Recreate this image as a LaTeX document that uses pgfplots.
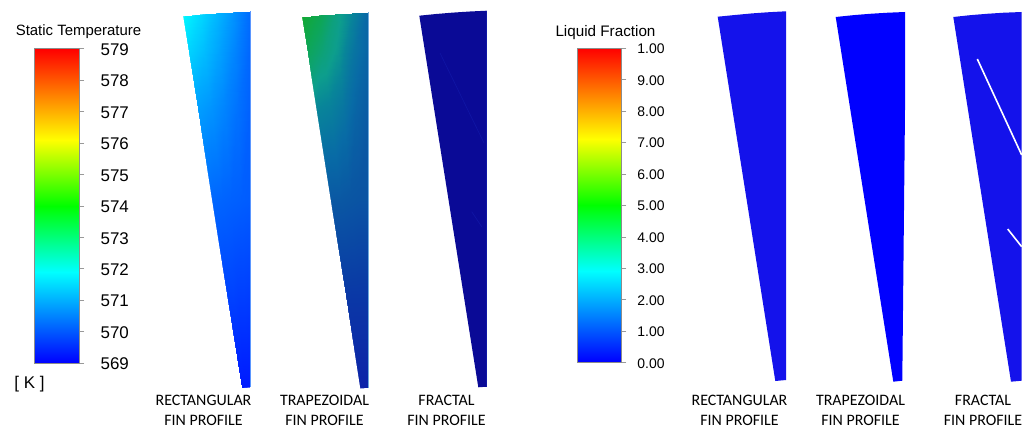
\documentclass[border=0pt]{standalone}
\usepackage{fontspec}
\setmainfont{Liberation Sans}
\newfontfamily\capfont{Carlito}
\usepackage{pgfplots}
\pgfplotsset{compat=1.18}
\pgfplotsset{
  colormap={fluent}{rgb255(0)=(0,0,255) rgb255(29)=(0,255,255) rgb255(50)=(0,255,0) rgb255(71)=(255,255,0) rgb255(100)=(255,0,0)},
  colormap={rectfin}{rgb(0)=(0,0,1) rgb(100)=(0,1,1)},
  colormap={trapfin}{rgb(0)=(.05,.14,.66) rgb(20)=(.04,.22,.65) rgb(40)=(.04,.34,.64) rgb(50)=(.03,.42,.65) rgb(62)=(.03,.52,.6) rgb(70)=(.05,.62,.55) rgb(85)=(.05,.65,.35) rgb(100)=(.07,.66,.2)},
  barstyle/.style={
    scale only axis, width=44.6bp, height=314.3bp, axis on top,
    xmin=0, xmax=1, xtick=\empty, enlargelimits=false,
    axis line style={color=black!45, line width=0.5bp},
    ytick pos=right, yticklabel pos=right, tick align=outside,
    major tick length=5bp,
    tick style={color=black!40, line width=0.5bp},
    colormap name=fluent,
  },
}
\definecolor{fracL}{RGB}{10,10,150}
\definecolor{faint}{RGB}{16,22,165}
\definecolor{fillR}{RGB}{20,18,235}
\newcommand{\fincap}[3]{\node[font=\capfont\fontsize{16}{20}\selectfont, align=center, anchor=center, inner sep=0pt] at (axis cs:#1,#2) {#3};}
\begin{document}
\begin{tikzpicture}
\useasboundingbox (0,0) rectangle (1030bp,428bp);
\begin{axis}[
  at={(0,0)}, anchor=south west,
  scale only axis, width=1030bp, height=428bp,
  xmin=0, xmax=1030, ymin=0, ymax=428, y dir=reverse,
  hide axis, clip=false,
]
% rectangular fin, temperature (meta = green share of the cyan-blue colour)
\addplot[surf, shader=interp, mesh/cols=5, colormap name=rectfin,
  point meta=explicit, point meta min=0, point meta max=1] table[meta=g] {
x y g
183 16 .97
200 14.3 .85
216.5 12.9 .72
233 11.9 .58
250 11.3 .42
188.9 53.2 .82
204.2 51.7 .74
219.4 50.4 .64
234.7 49.5 .52
250 48.9 .40
197.7 109.1 .62
210.8 107.7 .58
223.9 106.7 .52
236.9 105.8 .45
250 105.3 .38
212.4 202.2 .40
221.8 201.2 .39
231.2 200.4 .38
240.6 199.7 .37
250 199.4 .36
227 295.2 .26
232.8 294.6 .26
238.5 294.1 .25
244.3 293.7 .25
250 293.3 .24
241.7 388.3 .10
243.8 388.05 .10
245.9 387.8 .10
247.9 387.55 .10
250 387.3 .10
};
% trapezoidal fin, temperature
\addplot[surf, shader=interp, mesh/cols=5, colormap name=trapfin,
  point meta=explicit, point meta min=0, point meta max=1] table[meta=t] {
x y t
301.8 16.7 1
318.8 15 .88
335.3 13.6 .74
351.8 12.6 .62
368.8 12 .47
307.7 53.9 .84
323 52.4 .76
338.2 51.1 .68
353.5 50.2 .55
368.8 49.6 .46
316.5 109.8 .62
329.6 108.4 .6
342.7 107.4 .55
355.7 106.5 .47
368.8 106 .42
331.2 202.9 .4
340.6 201.9 .4
350 201.1 .39
359.4 200.4 .38
368.8 200.1 .38
345.8 295.9 .2
351.6 295.3 .2
357.3 294.8 .2
363.1 294.4 .2
368.8 294 .2
360.4 388.6 0
362.5 388.4 0
364.6 388.2 0
366.6 388 0
368.8 387.8 0
};
% soft light rims of the two shaded fins
\addplot[draw=white, line width=1.3bp] coordinates {(182.4,15.6) (241,388.9) (250.3,388.2)};
\addplot[draw=white, line width=1.3bp] coordinates {(182.4,15.6) (200,13.8) (216.5,12.4) (233,11.4) (250.5,10.7)};
\addplot[draw=white, line width=1.3bp] coordinates {(301.2,16.3) (359.7,389.2) (369.1,388.6)};
\addplot[draw=white, line width=1.3bp] coordinates {(301.2,16.3) (318.8,14.5) (335.3,13.1) (351.8,12.1) (369.3,11.4)};
\addplot[draw={rgb,255:red,110;green,170;blue,220}, line width=0.7bp] coordinates {(368.8,12) (368.8,387.8)};
\addplot[draw={rgb,255:red,90;green,150;blue,255}, line width=0.5bp] coordinates {(250,11.3) (250,387.3)};
% fractal fin, temperature
\addplot[fill=fracL, draw=none] coordinates {(419.3,15.7) (436,14) (453,12.6) (470,11.5) (486.7,10.7) (486.7,386.7) (478.3,387.3)} --cycle;
\addplot[draw=faint, line width=0.6bp] coordinates {(440,53) (484,143)};
\addplot[draw=faint, line width=0.6bp] coordinates {(471.7,211.7) (481.7,226.7)};
\addplot[draw=faint, line width=0.7bp] coordinates {(486,11) (486,386.7)};
% rectangular fin, liquid fraction
\addplot[fill=fillR, draw=none] coordinates {(717.7,16.7) (735,15) (752,13.4) (769,12.2) (786,11.3) (786,380) (775.3,381)} --cycle;
% trapezoidal fin, liquid fraction
\addplot[fill={rgb,255:red,0;green,0;blue,255}, draw=none] coordinates {(835.7,17) (853,15.2) (870,13.8) (888,12.7) (905,12) (905,110) (902.3,380.7) (893.3,381.7)} --cycle;
% fractal fin, liquid fraction
\addplot[fill=fillR, draw=none] coordinates {(953.3,17) (970,15.2) (987,13.8) (1004,12.7) (1021.7,12) (1021.7,380.7) (1011,381.7)} --cycle;
\addplot[draw=white, line width=1.6bp] coordinates {(977.3,59) (1021.7,155)};
\addplot[draw=white, line width=1.6bp] coordinates {(1007.7,229) (1021.7,246.7)};
% titles
\node[font=\fontsize{15}{17}\selectfont, anchor=center] at (axis cs:78.5,32) {Static Temperature};
\node[font=\fontsize{15.3}{17}\selectfont, anchor=center] at (axis cs:605.5,33) {Liquid Fraction};
\node[font=\fontsize{17}{20}\selectfont, anchor=center] at (axis cs:29.5,384) {[ K ]};
% captions
\fincap{203.5}{410.5}{RECTANGULAR\\FIN PROFILE}
\fincap{324.5}{410.5}{TRAPEZOIDAL\\FIN PROFILE}
\fincap{446.5}{410.5}{FRACTAL\\FIN PROFILE}
\fincap{739.5}{410.5}{RECTANGULAR\\FIN PROFILE}
\fincap{860.5}{410.5}{TRAPEZOIDAL\\FIN PROFILE}
\fincap{983}{410.5}{FRACTAL\\FIN PROFILE}
\end{axis}
% temperature colour bar
\begin{axis}[barstyle, at={(34.5bp,65bp)}, anchor=south west,
  ymin=569, ymax=579, ytick={569,570,...,579},
  yticklabels={569,570,571,572,573,574,575,576,577,578,579},
  yticklabel style={font=\fontsize{17}{19}\selectfont, xshift=13bp, yshift=-1bp},
]
\addplot[surf, shader=interp, mesh/cols=2, point meta=y] table {
x y
0 569
1 569
0 574
1 574
0 579
1 579
};
\end{axis}
% liquid fraction colour bar
\begin{axis}[barstyle, at={(576.8bp,65.5bp)}, anchor=south west,
  ymin=0, ymax=10, ytick={0,1,...,10},
  yticklabels={0.00,1.00,2.00,3.00,4.00,5.00,6.00,7.00,8.00,9.00,1.00},
  yticklabel style={font=\fontsize{14}{16}\selectfont, xshift=7.5bp, yshift=-0.7bp},
]
\addplot[surf, shader=interp, mesh/cols=2, point meta=y] table {
x y
0 0
1 0
0 5
1 5
0 10
1 10
};
\end{axis}
\end{tikzpicture}
\end{document}
